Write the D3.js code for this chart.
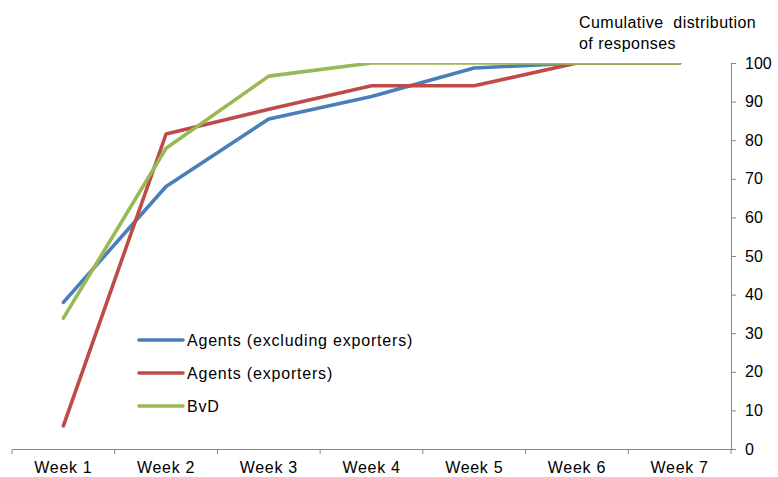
<!DOCTYPE html>
<html>
<head>
<meta charset="utf-8">
<script src="https://cdn.jsdelivr.net/npm/d3@7"></script>
<style>
  html, body { margin: 0; padding: 0; background: #fff; }
  svg { display: block; font-family: "Liberation Sans", Arial, sans-serif; }
</style>
</head>
<body>
<svg id="chart" width="778" height="477"></svg>
<script>
// Weekly cumulative share of responses (%)
const weeks = ["Week 1", "Week 2", "Week 3", "Week 4", "Week 5", "Week 6", "Week 7"];
const agentsExclExporters = [38, 68, 85.5, 91.3, 98.7, 100, 100];
const agentsExporters = [6, 81.6, 88, 94.1, 94.1, 100, 100];
const bvd = [33.9, 77.9, 96.6, 100, 100, 100, 100];
const yTicks = [0, 10, 20, 30, 40, 50, 60, 70, 80, 90, 100];

const seriesNames = ["Agents (excluding exporters)", "Agents (exporters)", "BvD"];
const seriesColors = ["#4a7ebb", "#be4b48", "#98b954"];
const seriesValues = [agentsExclExporters, agentsExporters, bvd];

const svg = d3.select("#chart");
const plot = { left: 12, right: 731, top: 63, bottom: 449 };

const x = d3.scaleBand().domain(weeks).range([plot.left, plot.right]);
const y = d3.scaleLinear().domain([0, 100]).range([plot.bottom, plot.top]);

const axisColor = "#868686";

// Clip region for the plot area
svg.append("defs").append("clipPath").attr("id", "plotClip")
  .append("rect")
  .attr("x", plot.left).attr("y", plot.top)
  .attr("width", plot.right - plot.left).attr("height", plot.bottom - plot.top);

// Bottom category axis
const xAxis = svg.append("g")
  .attr("transform", `translate(0,${plot.bottom})`)
  .call(d3.axisBottom(x).tickSize(0).tickPadding(13));
xAxis.select(".domain").attr("stroke", axisColor).attr("stroke-width", 1);
xAxis.selectAll("text").attr("font-size", 16).attr("fill", "#000")
  .attr("letter-spacing", "0.7px")
  .attr("font-family", "'Liberation Sans', Arial, sans-serif");
// tick marks on band boundaries
const bounds = weeks.map(w => x(w)).concat([x(weeks[weeks.length - 1]) + x.bandwidth()]);
xAxis.selectAll("line.bound").data(bounds).join("line")
  .attr("class", "bound")
  .attr("x1", d => d).attr("x2", d => d)
  .attr("y1", 0).attr("y2", 5)
  .attr("stroke", axisColor).attr("stroke-width", 1);

// Right value axis
const yAxis = svg.append("g")
  .attr("transform", `translate(${plot.right},0)`)
  .call(d3.axisRight(y).tickValues(yTicks).tickSize(5).tickPadding(9).tickSizeOuter(0));
yAxis.select(".domain").attr("stroke", axisColor).attr("stroke-width", 1);
yAxis.selectAll(".tick line").attr("stroke", axisColor);
yAxis.selectAll("text").attr("font-size", 16).attr("fill", "#000")
  .attr("font-family", "'Liberation Sans', Arial, sans-serif");

// Axis title
const title = svg.append("text")
  .attr("x", 579).attr("y", 28)
  .attr("font-size", 16).attr("fill", "#000")
  .attr("letter-spacing", "0.45px");
title.append("tspan").attr("x", 579).attr("y", 28).attr("xml:space", "preserve").text("Cumulative  distribution");
title.append("tspan").attr("x", 579).attr("y", 49).text("of responses");

// Lines
const line = d3.line()
  .x((d, i) => x(weeks[i]) + x.bandwidth() / 2)
  .y(d => y(d));

const linesG = svg.append("g").attr("clip-path", "url(#plotClip)");
seriesValues.forEach((vals, i) => {
  linesG.append("path")
    .datum(vals)
    .attr("d", line)
    .attr("fill", "none")
    .attr("stroke", seriesColors[i])
    .attr("stroke-width", 3.6)
    .attr("stroke-linejoin", "round")
    .attr("stroke-linecap", "round");
});

// Legend
const legend = svg.append("g").attr("transform", "translate(139,340)");
seriesNames.forEach((name, i) => {
  const g = legend.append("g").attr("transform", `translate(0,${i * 33})`);
  g.append("line")
    .attr("x1", 0).attr("x2", 44).attr("y1", 0).attr("y2", 0)
    .attr("stroke", seriesColors[i]).attr("stroke-width", 3.6)
    .attr("stroke-linecap", "round");
  g.append("text")
    .attr("x", 48).attr("y", 6)
    .attr("font-size", 16).attr("fill", "#000")
    .attr("letter-spacing", "0.8px")
    .text(name);
});
</script>
</body>
</html>
